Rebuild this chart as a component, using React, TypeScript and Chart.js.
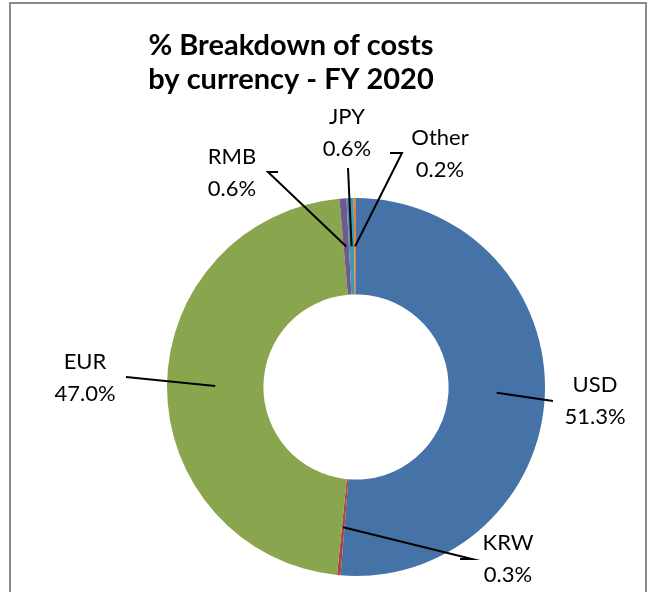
import React, { useEffect, useRef } from "react";
import { Chart, registerables } from "chart.js";

Chart.register(...registerables);

const titleLines = ["% Breakdown of costs", "by currency - FY 2020"];
const currencies = ["USD", "KRW", "EUR", "RMB", "JPY", "Other"];
const shares = [51.3, 0.3, 47.0, 0.6, 0.6, 0.2];
const sliceColors = ["#4572A7", "#AA4643", "#89A54E", "#71588F", "#4198AF", "#DB843D"];

// label layout: offsets from doughnut centre (elbow points of leader line, then text centre)
const labelLayout = [
  { elbows: [[197, 14]], text: [239, -2] },
  { elbows: [[116, 172], [104, 172]], text: [152, 156] },
  { elbows: [[-230, -10]], text: [-271, -25] },
  { elbows: [[-88, -215], [-78, -215]], text: [-124, -230] },
  { elbows: [[-8, -219]], text: [-9, -270] },
  { elbows: [[46, -234], [34, -234]], text: [84, -249] },
];

const decorPlugin = {
  id: "decor",
  afterDraw(chart: any) {
    const ctx = chart.ctx;
    const meta = chart.getDatasetMeta(0);
    const first = meta.data[0];
    const cx = first.x;
    const cy = first.y;
    ctx.save();
    // frame
    ctx.strokeStyle = "#8a8a8a";
    ctx.lineWidth = 2;
    ctx.strokeRect(10, 3, 636, 620);
    // title
    ctx.fillStyle = "#000";
    ctx.font = "bold 29px Lato";
    ctx.textAlign = "center";
    ctx.textBaseline = "middle";
    ctx.fillText(titleLines[0], 291, 46);
    ctx.fillText(titleLines[1], 291, 80);
    // leader lines & labels
    ctx.font = "22px Lato";
    meta.data.forEach((arc: any, i: number) => {
      const p = arc.getProps(["startAngle", "endAngle", "innerRadius", "outerRadius"], true);
      const mid = (p.startAngle + p.endAngle) / 2;
      const r = (p.innerRadius + p.outerRadius) / 2;
      const ax = cx + Math.cos(mid) * r;
      const ay = cy + Math.sin(mid) * r;
      const lay = labelLayout[i];
      ctx.beginPath();
      ctx.strokeStyle = "#000";
      ctx.lineWidth = 2;
      ctx.moveTo(ax, ay);
      lay.elbows.forEach((e) => ctx.lineTo(cx + e[0], cy + e[1]));
      ctx.stroke();
      const tx = cx + lay.text[0];
      const ty = cy + lay.text[1];
      ctx.fillStyle = "#000";
      ctx.fillText(currencies[i], tx, ty);
      ctx.fillText(shares[i].toFixed(1) + "%", tx, ty + 32);
    });
    ctx.restore();
  },
};

export default function App() {
  const ref = useRef<HTMLCanvasElement>(null);
  useEffect(() => {
    const chart = new Chart(ref.current as HTMLCanvasElement, {
      type: "doughnut",
      data: {
        labels: currencies,
        datasets: [
          {
            data: shares,
            backgroundColor: sliceColors,
            borderWidth: 0,
          },
        ],
      },
      options: {
        responsive: false,
        animation: false,
        cutout: "49%",
        layout: { padding: { left: 167, right: 105, top: 198, bottom: 16 } },
        plugins: {
          legend: { display: false },
          title: { display: false },
          tooltip: { enabled: false },
        },
      },
      plugins: [decorPlugin],
    });
    return () => chart.destroy();
  }, []);
  return (
    <div style={{ position: "absolute", left: 0, top: 0, width: 650, height: 592, background: "#fff" }}>
      <canvas ref={ref} width={650} height={592} />
    </div>
  );
}
